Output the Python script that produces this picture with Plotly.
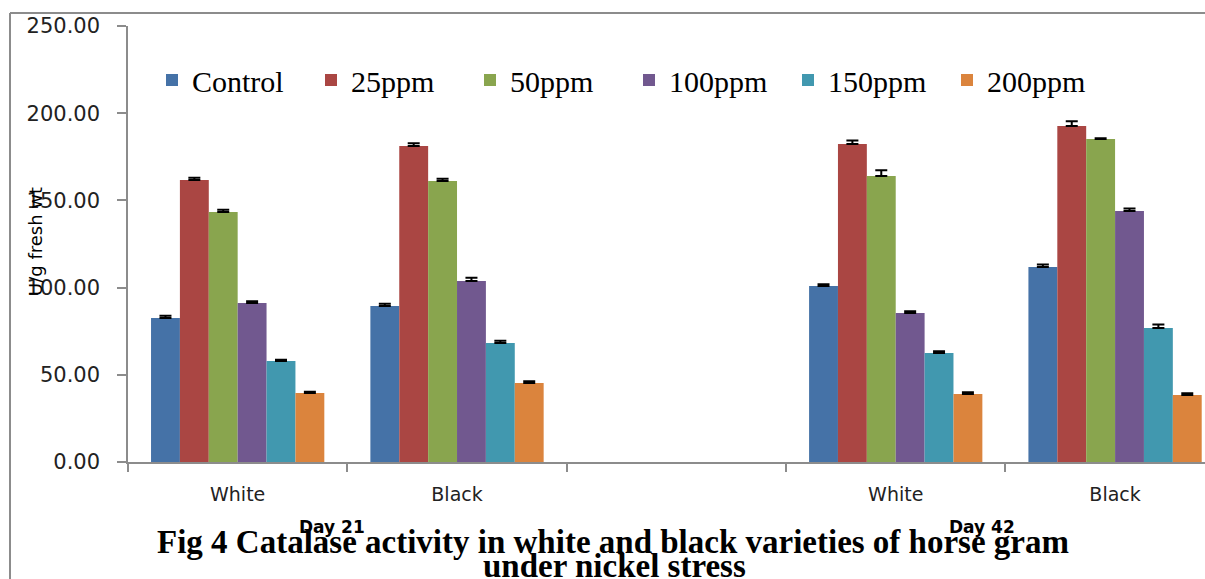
import plotly.graph_objects as go

# ---- data ----
categories = ["D21 White", "D21 Black", "gap", "D42 White", "D42 Black"]
tick_labels = ["White", "Black", "", "White", "Black"]
bar_categories = ["D21 White", "D21 Black", "D42 White", "D42 Black"]

series_names = ["Control", "25ppm", "50ppm", "100ppm", "150ppm", "200ppm"]
control = [82.6, 89.4, 100.9, 111.8]
ppm25 = [161.7, 181.2, 182.3, 192.7]
ppm50 = [143.3, 161.1, 164.0, 185.2]
ppm100 = [91.2, 103.8, 85.4, 143.9]
ppm150 = [57.9, 68.2, 62.5, 76.8]
ppm200 = [39.6, 45.3, 39.0, 38.4]

err_control = [1.3, 1.3, 1.0, 1.5]
err_25 = [1.3, 1.5, 2.0, 2.7]
err_50 = [1.3, 1.3, 3.3, 0.4]
err_100 = [1.0, 1.9, 1.0, 1.5]
err_150 = [0.7, 1.3, 1.0, 2.1]
err_200 = [0.7, 1.0, 1.0, 1.0]

colors = ["#4572A7", "#AA4643", "#89A54E", "#71588F", "#4198AF", "#DB843D"]

values = [control, ppm25, ppm50, ppm100, ppm150, ppm200]
errors = [err_control, err_25, err_50, err_100, err_150, err_200]

W, H = 1205, 579
L, R, T, B = 128, 0, 26, 117
PW = W - L - R
PH = H - T - B


def px(x):
    return (x - L) / PW


def py(y):
    return (H - B - y) / PH


fig = go.Figure()
for name, vals, errs, col in zip(series_names, values, errors, colors):
    fig.add_trace(go.Bar(
        name=name, x=bar_categories, y=vals,
        marker=dict(color=col, line=dict(width=0)),
        error_y=dict(type="data", symmetric=False, array=errs,
                     arrayminus=[0] * len(errs), color="black",
                     thickness=2, width=6),
    ))

gray = "#8c8c8c"
sans = "DejaVu Sans"
serif = "Liberation Serif"

fig.update_layout(
    width=W, height=H, autosize=False,
    margin=dict(l=L, r=R, t=T, b=B, pad=0),
    paper_bgcolor="white", plot_bgcolor="white",
    barmode="group", bargap=0.21, bargroupgap=0,
    showlegend=True,
    legend=dict(orientation="h", x=px(152), xanchor="left",
                y=py(80), yanchor="middle",
                font=dict(family=serif, size=30, color="black"),
                entrywidth=114, entrywidthmode="pixels",
                bgcolor="rgba(0,0,0,0)", borderwidth=0),
    xaxis=dict(type="category", categoryorder="array", categoryarray=categories,
               tickvals=categories, ticktext=tick_labels,
               range=[-0.5, 4.41], tickson="boundaries",
               ticks="outside", ticklen=8, tickcolor=gray, tickwidth=1.5,
               showline=True, linecolor=gray, linewidth=1.5,
               showgrid=False, zeroline=False,
               ticklabelstandoff=14,
               tickfont=dict(family=sans, size=19, color="#222")),
    yaxis=dict(range=[0, 250], dtick=50, tick0=0, tickformat=".2f",
               ticks="outside", ticklen=9, tickcolor=gray, tickwidth=1.5,
               showline=True, linecolor=gray, linewidth=1.5,
               showgrid=False, zeroline=False,
               ticklabelstandoff=13,
               tickfont=dict(family=sans, size=21, color="#222")),
)

# outer chart border (left and top)
fig.add_shape(type="line", xref="paper", yref="paper",
              x0=px(10), x1=px(10), y0=py(13), y1=py(579),
              line=dict(color=gray, width=2))
fig.add_shape(type="line", xref="paper", yref="paper",
              x0=px(10), x1=px(1205), y0=py(13), y1=py(13),
              line=dict(color=gray, width=2))

# y axis title
fig.add_annotation(text="U/g fresh wt", xref="paper", yref="paper",
                   x=px(35), y=py(242), textangle=-90, showarrow=False,
                   font=dict(family=sans, size=18, color="black"),
                   xanchor="center", yanchor="middle")

# group labels
for label, xpos in [("Day 21", 332), ("Day 42", 982)]:
    fig.add_annotation(text="<b>" + label + "</b>", xref="paper", yref="paper",
                       x=px(xpos), y=py(527), showarrow=False,
                       font=dict(family=sans, size=17, color="black"),
                       xanchor="center", yanchor="middle")

# caption
fig.add_annotation(text="<b>Fig 4 Catalase activity in white and black varieties of horse gram</b>",
                   xref="paper", yref="paper", x=px(613), y=py(542), showarrow=False,
                   font=dict(family=serif, size=33, color="black"),
                   xanchor="center", yanchor="middle")
fig.add_annotation(text="<b>under nickel stress</b>",
                   xref="paper", yref="paper", x=px(614), y=py(566), showarrow=False,
                   font=dict(family=serif, size=33, color="black"),
                   xanchor="center", yanchor="middle")

fig.write_html("out.html",
               config={"displayModeBar": False},
               post_script="document.body.style.margin='0';"
                           "document.body.style.overflow='hidden';"
                           "document.documentElement.style.overflow='hidden';")
